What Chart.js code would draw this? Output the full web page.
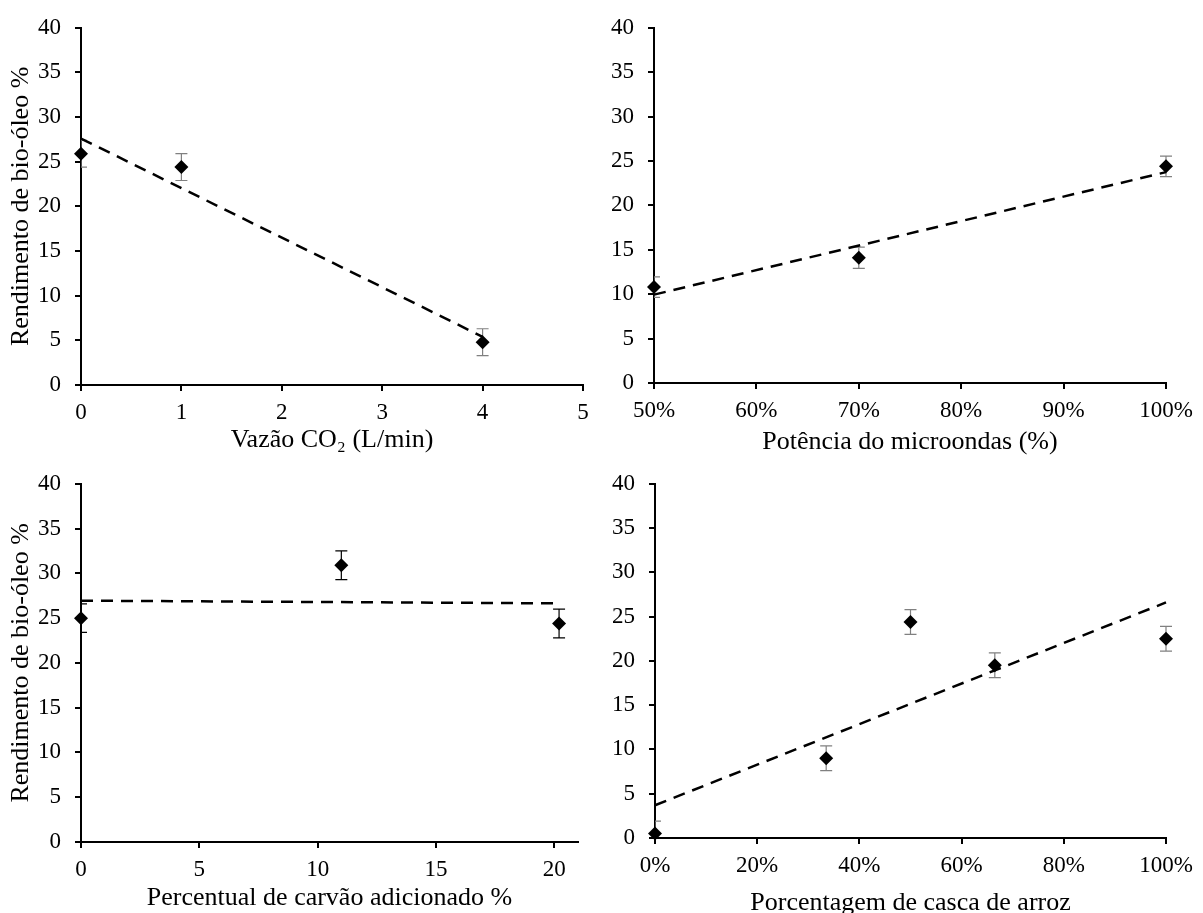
<!DOCTYPE html>
<html>
<head>
<meta charset="utf-8">
<script src="https://cdn.jsdelivr.net/npm/chart.js@4.4.1/dist/chart.umd.min.js"></script>
<style>
  html, body { margin: 0; padding: 0; background: #fff; width: 1203px; height: 913px; overflow: hidden; }
  canvas { position: absolute; }
</style>
</head>
<body>
<canvas id="c1"></canvas>
<canvas id="c2"></canvas>
<canvas id="c3"></canvas>
<canvas id="c4"></canvas>
<script>
// Shared y axis (bio-oil yield, %)
const yTicks = [0, 5, 10, 15, 20, 25, 30, 35, 40];

// CO2 flow rate (L/min)
const vazaoCO2 = [0, 1, 4];
const rendVazao = [25.9, 24.4, 4.8];
const errVazao = [1.5, 1.5, 1.5];
const trendVazaoX = [0, 4];
const trendVazaoY = [27.6, 5.4];
const vazaoTicks = [0, 1, 2, 3, 4, 5];

// Microwave power (%)
const potencia = [50, 70, 100];
const rendPotencia = [10.8, 14.1, 24.4];
const errPotencia = [1.15, 1.2, 1.15];
const trendPotX = [50, 100];
const trendPotY = [9.95, 23.75];
const potTicks = [50, 60, 70, 80, 90, 100];

// Added charcoal (%)
const carvao = [0, 11, 20.2];
const rendCarvao = [25.0, 30.9, 24.4];
const errCarvao = [1.6, 1.6, 1.6];
const trendCarvaoX = [0, 20.2];
const trendCarvaoY = [26.95, 26.65];
const carvaoTicks = [0, 5, 10, 15, 20];

// Rice husk share (%)
const casca = [0, 33.5, 50, 66.5, 100];
const rendCasca = [0.5, 9.0, 24.4, 19.5, 22.5];
const errCasca = [1.4, 1.4, 1.4, 1.4, 1.4];
const trendCascaX = [0, 100];
const trendCascaY = [3.7, 26.6];
const cascaTicks = [0, 20, 40, 60, 80, 100];

const SERIF = "'Liberation Serif', 'Times New Roman', serif";
const INK = '#000';

const zip = (xs, ys) => xs.map((v, i) => ({ x: v, y: ys[i] }));

// Vertical error bars with caps, drawn underneath the markers
const errorBars = {
  id: 'errorBars',
  beforeDatasetsDraw(chart) {
    const { ctx, chartArea: a, scales: { x, y } } = chart;
    chart.data.datasets.forEach(ds => {
      if (!ds.errors) return;
      ctx.save();
      ctx.beginPath();
      ctx.rect(a.left, 0, chart.width - a.left, a.bottom);
      ctx.clip();
      ctx.strokeStyle = ds.errorColor;
      ctx.lineWidth = 1.2;
      const cap = 6;
      ds.data.forEach((p, i) => {
        const px = x.getPixelForValue(p.x);
        const hi = y.getPixelForValue(p.y + ds.errors[i]);
        const lo = y.getPixelForValue(p.y - ds.errors[i]);
        ctx.beginPath();
        ctx.moveTo(px, hi); ctx.lineTo(px, lo);
        ctx.moveTo(px - cap, hi); ctx.lineTo(px + cap, hi);
        ctx.moveTo(px - cap, lo); ctx.lineTo(px + cap, lo);
        ctx.stroke();
      });
      ctx.restore();
    });
  }
};

function panel(id, box, area, p) {
  const cv = document.getElementById(id);
  cv.width = box.w; cv.height = box.h;
  cv.style.left = box.x + 'px'; cv.style.top = box.y + 'px';

  const axisLine = { display: true, color: INK, width: 2 };
  const tickGrid = { display: true, drawOnChartArea: false, drawTicks: true, tickLength: 6, color: INK, lineWidth: 2 };

  new Chart(cv, {
    type: 'scatter',
    data: {
      datasets: [
        {
          data: zip(p.trendX, p.trendY), showLine: true,
          borderColor: INK, borderWidth: 2.5, borderDash: [12, 8],
          pointRadius: 0, order: 0, clip: false
        },
        {
          data: zip(p.xs, p.ys), pointStyle: 'rectRot', pointRadius: 7,
          backgroundColor: INK, borderColor: INK, borderWidth: 0,
          errors: p.errs, errorColor: p.errColor, order: 1, clip: false
        }
      ]
    },
    options: {
      responsive: false, animation: false, events: [],
      layout: { padding: { left: 0, top: area.t - box.y, right: box.x + box.w - area.r, bottom: 0 } },
      plugins: { legend: { display: false }, tooltip: { enabled: false } },
      scales: {
        x: {
          type: 'linear', min: p.xMin, max: p.xMax,
          afterBuildTicks: s => { s.ticks = p.xTicks.map(v => ({ value: v })); },
          afterFit: s => { s.height = box.y + box.h - area.b; },
          ticks: {
            color: INK, font: { family: SERIF, size: 23 }, padding: 8, maxRotation: 0,
            callback: v => v + p.suffix
          },
          grid: tickGrid, border: axisLine,
          title: {
            display: true, text: p.xTitle, color: INK,
            font: { family: SERIF, size: 26 }, padding: { top: 0, bottom: p.xTitlePad }
          }
        },
        y: {
          type: 'linear', min: 0, max: 40,
          afterBuildTicks: s => { s.ticks = yTicks.map(v => ({ value: v })); },
          afterFit: s => { s.width = area.l - box.x; },
          ticks: { color: INK, font: { family: SERIF, size: 23 }, padding: 14 },
          grid: tickGrid, border: axisLine,
          title: {
            display: p.yTitle, text: 'Rendimento de bio-óleo %', color: INK,
            font: { family: SERIF, size: 26 }, padding: { top: 5.4, bottom: 0 }
          }
        }
      }
    },
    plugins: [errorBars]
  });
}

panel('c1', { x: 0, y: 0, w: 600, h: 460 }, { l: 81, t: 21, r: 583, b: 385 }, {
  xs: vazaoCO2, ys: rendVazao, errs: errVazao, errColor: '#808080',
  trendX: trendVazaoX, trendY: trendVazaoY, xTicks: vazaoTicks, xMin: 0, xMax: 5, suffix: '',
  xTitle: 'Vazão CO₂ (L/min)', xTitlePad: 4.4, yTitle: true
});

panel('c2', { x: 600, y: 0, w: 603, h: 460 }, { l: 654, t: 21, r: 1166, b: 383 }, {
  xs: potencia, ys: rendPotencia, errs: errPotencia, errColor: '#808080',
  trendX: trendPotX, trendY: trendPotY, xTicks: potTicks, xMin: 50, xMax: 100, suffix: '%',
  xTitle: 'Potência do microondas (%)', xTitlePad: 2, yTitle: false
});

panel('c3', { x: 0, y: 456, w: 600, h: 460 }, { l: 81, t: 478, r: 578, b: 842 }, {
  xs: carvao, ys: rendCarvao, errs: errCarvao, errColor: '#000',
  trendX: trendCarvaoX, trendY: trendCarvaoY, xTicks: carvaoTicks, xMin: 0, xMax: 21, suffix: '',
  xTitle: 'Percentual de carvão adicionado %', xTitlePad: 2.4, yTitle: true
});

panel('c4', { x: 600, y: 456, w: 603, h: 460 }, { l: 655, t: 478, r: 1166, b: 838 }, {
  xs: casca, ys: rendCasca, errs: errCasca, errColor: '#808080',
  trendX: trendCascaX, trendY: trendCascaY, xTicks: cascaTicks, xMin: 0, xMax: 100, suffix: '%',
  xTitle: 'Porcentagem de casca de arroz', xTitlePad: -2.6, yTitle: false
});
</script>
</body>
</html>
